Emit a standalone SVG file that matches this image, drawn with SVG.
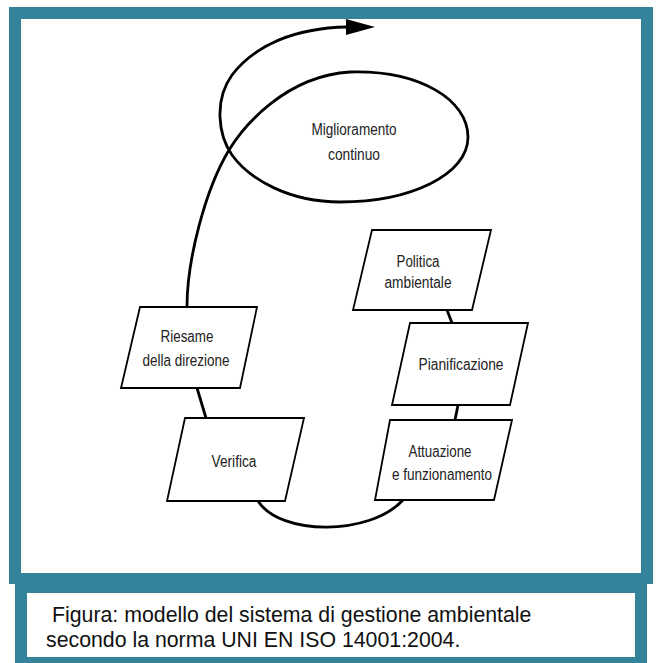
<svg xmlns="http://www.w3.org/2000/svg" width="659" height="663" viewBox="0 0 659 663">
<style>
.frame{fill:#33849B}
.inner{fill:#FFFFFF}
.box{fill:#FFFFFF;stroke:#000;stroke-width:1.8;stroke-linejoin:miter}
.conn{fill:none;stroke:#000;stroke-width:2.8;stroke-linecap:butt}
.lbl{font-family:"Liberation Sans",Arial,sans-serif;font-size:16px;fill:#222;text-anchor:middle}
.cap{font-family:"Liberation Sans",Arial,sans-serif;font-size:21.3px;fill:#111}
</style>
<defs>
<marker id="arrow" markerWidth="10" markerHeight="10" refX="0" refY="5" orient="auto" markerUnits="userSpaceOnUse" viewBox="0 0 10 10">
<path d="M0,0 L10,5 L0,10 Z" fill="#000"/>
</marker>
</defs>
<rect class="frame" x="9" y="7" width="644" height="577"/>
<rect class="inner" x="21" y="19" width="620" height="554"/>
<rect class="frame" x="15" y="584" width="632" height="79"/>
<rect class="inner" x="27" y="593" width="608" height="64"/>
<g id="connectors">
<path class="conn" d="M187,307 C187,260 205,190 229,150 C243,127 285,76 350,72 C420,70 468,100 468,137 C468,175 410,202 340,202 C290,202 250,180 232,155 C218,135 214,100 232,75 C255,45 295,28 347,27"/>
<polygon points="346,19 375,27 346,35" fill="#000"/>
<line class="conn" x1="197" y1="388" x2="206" y2="418"/>
<line class="conn" x1="447" y1="310" x2="452" y2="323"/>
<line class="conn" x1="458" y1="405" x2="455" y2="420"/>
<path class="conn" d="M258,501 C280,536 370,536 403,500"/>
</g>
<g id="miglioramento">
<text class="lbl" x="354" y="135" textLength="85" lengthAdjust="spacingAndGlyphs">Miglioramento</text>
<text class="lbl" x="354" y="160" textLength="52" lengthAdjust="spacingAndGlyphs">continuo</text>
</g>
<g id="politica">
<polygon class="box" points="372,230 491,230 472,310 353,310"/>
<text class="lbl" x="418" y="267" textLength="43" lengthAdjust="spacingAndGlyphs">Politica</text>
<text class="lbl" x="418" y="288" textLength="67" lengthAdjust="spacingAndGlyphs">ambientale</text>
</g>
<g id="pianificazione">
<polygon class="box" points="410,323 528,323 510,405 392,405"/>
<text class="lbl" x="461" y="370" textLength="85" lengthAdjust="spacingAndGlyphs">Pianificazione</text>
</g>
<g id="attuazione">
<polygon class="box" points="390,420 512,420 494,500 375,500"/>
<text class="lbl" x="440" y="457" textLength="63" lengthAdjust="spacingAndGlyphs">Attuazione</text>
<text class="lbl" x="442" y="480" textLength="100" lengthAdjust="spacingAndGlyphs">e funzionamento</text>
</g>
<g id="verifica">
<polygon class="box" points="185,418 304,418 285,501 167,501"/>
<text class="lbl" x="234" y="467" textLength="45" lengthAdjust="spacingAndGlyphs">Verifica</text>
</g>
<g id="riesame">
<polygon class="box" points="140,307 257,307 240,388 121,388"/>
<text class="lbl" x="187" y="342" textLength="53" lengthAdjust="spacingAndGlyphs">Riesame</text>
<text class="lbl" x="186" y="366" textLength="87" lengthAdjust="spacingAndGlyphs">della direzione</text>
</g>
<g id="caption">
<text class="cap" x="52" y="622">Figura: modello del sistema di gestione ambientale</text>
<text class="cap" x="46" y="647">secondo la norma UNI EN ISO 14001:2004.</text>
</g>
</svg>
